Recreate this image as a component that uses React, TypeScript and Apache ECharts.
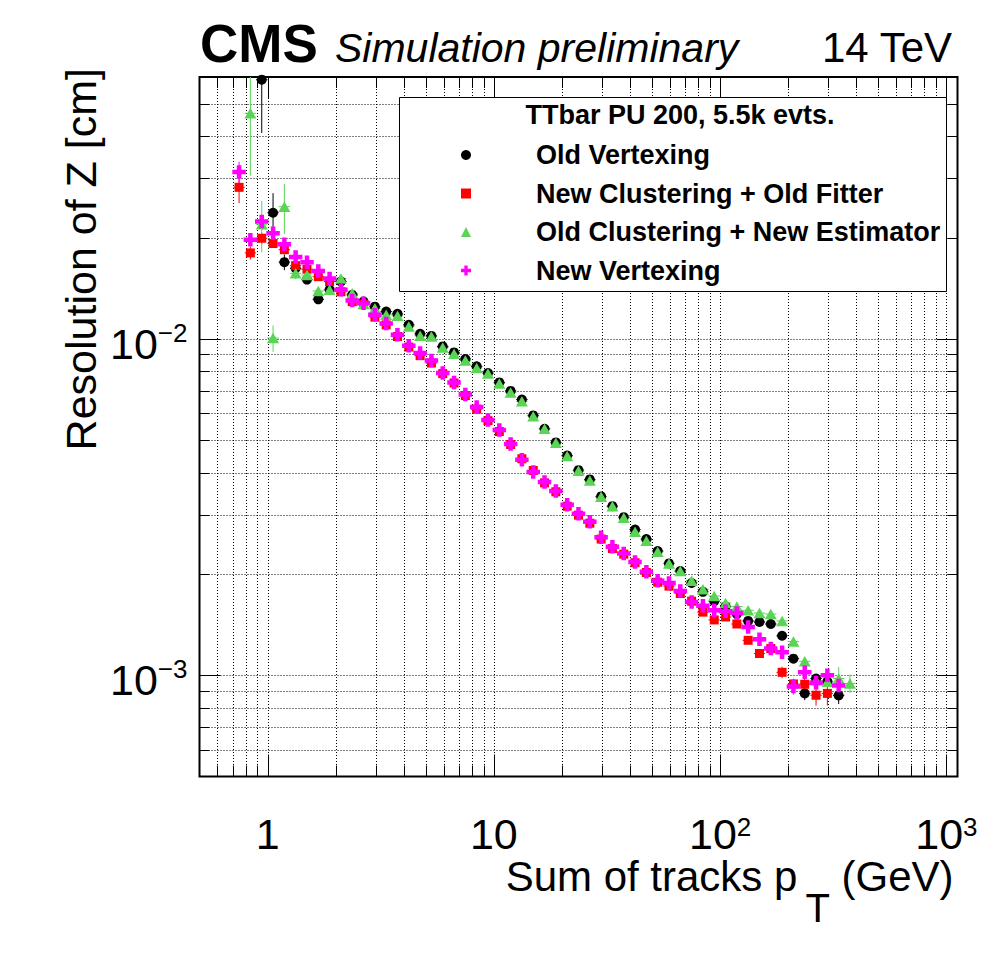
import React, { useEffect, useRef } from "react";
import * as echarts from "echarts";

// ---------- axis ranges & ticks ----------
const X_MIN = 0.5;
const X_MAX = 1120;
const Y_MIN = 0.0005;
const Y_MAX = 0.06;
const BIN_HALF_WIDTH_DEX = 0.025; // half bin width in decades (log-spaced bins)

const X_MAJOR_TICKS = [1, 10, 100, 1000];
const X_MINOR_TICKS = [
  0.6, 0.7, 0.8, 0.9, 2, 3, 4, 5, 6, 7, 8, 9, 20, 30, 40, 50, 60, 70, 80, 90,
  200, 300, 400, 500, 600, 700, 800, 900,
];
const Y_MAJOR_TICKS = [0.001, 0.01];
const Y_MINOR_TICKS = [
  0.0006, 0.0007, 0.0008, 0.0009, 0.002, 0.003, 0.004, 0.005, 0.006, 0.007,
  0.008, 0.009, 0.02, 0.03, 0.04, 0.05,
];

// ---------- data (bin centres in GeV, resolution in cm) ----------
const BIN_CENTERS = [
  0.748, 0.839, 0.942, 1.057, 1.186, 1.33, 1.493, 1.675, 1.879, 2.109, 2.366,
  2.655, 2.979, 3.342, 3.75, 4.207, 4.721, 5.297, 5.943, 6.668, 7.482, 8.395,
  9.419, 10.57, 11.86, 13.3, 14.93, 16.75, 18.79, 21.09, 23.66, 26.55, 29.79,
  33.42, 37.5, 42.07, 47.21, 52.97, 59.43, 66.68, 74.82, 83.95, 94.19, 105.7,
  118.6, 133.0, 149.3, 167.5, 187.9, 210.9, 236.6, 265.5, 297.9, 334.2, 375.0,
];

const OLD_VERTEXING = [
  null, null, 0.0589, 0.0237, 0.0169, 0.0162, 0.015, 0.0131, 0.014, 0.0148,
  0.0135, 0.0129, 0.01246, 0.01205, 0.01186, 0.011, 0.01035, 0.0102, 0.00949,
  0.00911, 0.00871, 0.00828, 0.00791, 0.00742, 0.007, 0.0066, 0.00592, 0.0054,
  0.00492, 0.0045, 0.00407, 0.00382, 0.0034, 0.00318, 0.00295, 0.00271,
  0.00254, 0.00234, 0.00215, 0.00204, 0.00188, 0.00177, 0.00166, 0.0016,
  0.00152, 0.00145, 0.00144, 0.00142, 0.00131, 0.00112, 0.000883, 0.000978,
  0.000958, 0.000871, null,
];
const NEW_CLUSTERING_OLD_FITTER = [
  0.0282, 0.018, 0.0199, 0.0192, 0.0184, 0.0165, 0.0161, 0.0153, 0.0148,
  0.0138, 0.0129, 0.0127, 0.0116, 0.011, 0.01016, 0.00945, 0.00891, 0.00847,
  0.00788, 0.00739, 0.00678, 0.00618, 0.00571, 0.0053, 0.00485, 0.0044,
  0.00406, 0.00373, 0.00351, 0.00318, 0.00299, 0.00283, 0.00254, 0.00238,
  0.00229, 0.00216, 0.00202, 0.00189, 0.00184, 0.00175, 0.00166, 0.00154,
  0.00146, 0.00149, 0.00142, 0.00127, 0.00116, 0.0012, 0.00102, 0.000942,
  0.00094, 0.000872, 0.000883, null, null,
];
const OLD_CLUSTERING_NEW_ESTIMATOR = [
  null, 0.0468, 0.0219, 0.01005, 0.0247, 0.01565, 0.01547, 0.01387, 0.014,
  0.01512, 0.01366, 0.01269, 0.01233, 0.01178, 0.0117, 0.01087, 0.01021,
  0.01016, 0.00942, 0.00903, 0.00862, 0.00819, 0.00788, 0.00736, 0.00693,
  0.00652, 0.00589, 0.0054, 0.00491, 0.00448, 0.00405, 0.00379, 0.00339,
  0.00318, 0.00294, 0.00267, 0.00251, 0.00233, 0.00215, 0.00204, 0.00191,
  0.0018, 0.00172, 0.00164, 0.0016, 0.00156, 0.00153, 0.00152, 0.00145,
  0.00126, 0.0011, 0.000966, 0.000956, 0.000978, 0.000945,
];
const NEW_VERTEXING = [
  0.0313, 0.0197, 0.0223, 0.0206, 0.0191, 0.0175, 0.0169, 0.0159, 0.0151,
  0.014, 0.013, 0.01276, 0.01178, 0.0111, 0.01028, 0.00953, 0.00907, 0.00862,
  0.00791, 0.00742, 0.00683, 0.00627, 0.00574, 0.00536, 0.00487, 0.00437,
  0.00402, 0.00375, 0.00353, 0.00321, 0.00302, 0.00286, 0.00257, 0.00241,
  0.0023, 0.00217, 0.00203, 0.00191, 0.00188, 0.00178, 0.00165, 0.00161,
  0.00156, 0.00155, 0.00153, 0.00139, 0.00128, 0.0012, 0.00117, 0.000926,
  0.00102, 0.00095, 0.001, 0.000932, null,
];

// visible vertical errors, keyed by index into BIN_CENTERS
const OLD_VERTEXING_ERR: Record<number, number> = { 2: 0.018, 3: 0.0034, 4: 0.0009, 7: 0.0004, 50: 0.00004, 53: 0.00005 };
const NEW_CLUSTERING_OLD_FITTER_ERR: Record<number, number> = { 0: 0.0029, 1: 0.0008, 2: 0.0008, 48: 0.00004, 50: 0.00008, 51: 0.00006, 52: 0.00007 };
const OLD_CLUSTERING_NEW_ESTIMATOR_ERR: Record<number, number> = { 1: 0.0162, 2: 0.0038, 3: 0.0009, 4: 0.0042, 5: 0.0006, 53: 0.00008, 54: 0.00006 };
const NEW_VERTEXING_ERR: Record<number, number> = { 0: 0.0023, 1: 0.0008, 49: 0.00005, 52: 0.00004 };

const SERIES_NAMES = [
  "Old Vertexing",
  "New Clustering + Old Fitter",
  "Old Clustering + New Estimator",
  "New Vertexing",
];

const FONT = '"Liberation Sans", Arial, Helvetica, sans-serif';
const CROSS = "path://M4,0H8V4H12V8H8V12H4V8H0V4H4Z";

function App() {
  const ref = useRef<HTMLDivElement>(null);

  useEffect(() => {
    document.body.style.margin = "0";
    document.body.style.overflow = "hidden";
    if (!ref.current) return;
    const chart = echarts.init(ref.current, null, { renderer: "svg" });

    const decorData: number[][] = [];
    X_MAJOR_TICKS.forEach((v) => decorData.push([v, 0.001, 0, 1]));
    X_MINOR_TICKS.forEach((v) => decorData.push([v, 0.001, 0, 0]));
    Y_MAJOR_TICKS.forEach((v) => decorData.push([1, v, 1, 1]));
    Y_MINOR_TICKS.forEach((v) => decorData.push([1, v, 1, 0]));

    const dotted = { stroke: "#000", lineWidth: 1, lineDash: [1, 2] };
    const solid = { stroke: "#000", lineWidth: 1 };

    const decorSeries = {
      type: "custom",
      name: "axis-decor",
      silent: true,
      data: decorData,
      renderItem: (params: any, api: any) => {
        const cs = params.coordSys;
        const p = api.coord([api.value(0), api.value(1)]);
        const kind = api.value(2);
        const major = api.value(3) === 1;
        const left = cs.x, right = cs.x + cs.width, top = cs.y, bottom = cs.y + cs.height;
        if (kind === 0) {
          const x = Math.round(p[0]) + 0.5;
          const len = major ? 22 : 11;
          return {
            type: "group",
            children: [
              { type: "line", shape: { x1: x, y1: top, x2: x, y2: bottom }, style: dotted },
              { type: "line", shape: { x1: x, y1: bottom, x2: x, y2: bottom - len }, style: solid },
              { type: "line", shape: { x1: x, y1: top, x2: x, y2: top + len }, style: solid },
            ],
          };
        }
        const y = Math.round(p[1]) + 0.5;
        const len = major ? 21 : 10;
        return {
          type: "group",
          children: [
            { type: "line", shape: { x1: left, y1: y, x2: right, y2: y }, style: dotted },
            { type: "line", shape: { x1: left, y1: y, x2: left + len, y2: y }, style: solid },
            { type: "line", shape: { x1: right, y1: y, x2: right - len, y2: y }, style: solid },
          ],
        };
      },
      z: 1,
    };

    const sets = [
      { name: SERIES_NAMES[0], values: OLD_VERTEXING, errs: OLD_VERTEXING_ERR, color: "#000000", symbol: "circle", size: 10 },
      { name: SERIES_NAMES[1], values: NEW_CLUSTERING_OLD_FITTER, errs: NEW_CLUSTERING_OLD_FITTER_ERR, color: "#ff0000", symbol: "rect", size: 9 },
      { name: SERIES_NAMES[2], values: OLD_CLUSTERING_NEW_ESTIMATOR, errs: OLD_CLUSTERING_NEW_ESTIMATOR_ERR, color: "#59d454", symbol: "triangle", size: [12, 10.5] },
      { name: SERIES_NAMES[3], values: NEW_VERTEXING, errs: NEW_VERTEXING_ERR, color: "#ff00ff", symbol: CROSS, size: 13.5 },
    ];

    const dataSeries: any[] = [];
    sets.forEach((s) => {
      const pts: number[][] = [];
      const errPts: number[][] = [];
      s.values.forEach((v, i) => {
        if (v == null) return;
        pts.push([BIN_CENTERS[i], v]);
        errPts.push([BIN_CENTERS[i], v, s.errs[i] || 0]);
      });
      dataSeries.push({
        type: "custom",
        name: "err-" + s.name,
        silent: true,
        data: errPts,
        renderItem: (params: any, api: any) => {
          const cs = params.coordSys;
          const x = api.value(0), y = api.value(1), e = api.value(2);
          const c = api.coord([x, y]);
          const f = Math.pow(10, BIN_HALF_WIDTH_DEX);
          const xl = api.coord([x / f, y])[0];
          const xr = api.coord([x * f, y])[0];
          const st = { stroke: s.color, lineWidth: 1 };
          const children: any[] = [
            { type: "line", shape: { x1: xl, y1: c[1], x2: xr, y2: c[1] }, style: st },
          ];
          if (e > 0) {
            const yt = Math.max(api.coord([x, y + e])[1], cs.y);
            const yb = Math.min(api.coord([x, Math.max(y - e, Y_MIN)])[1], cs.y + cs.height);
            children.push({ type: "line", shape: { x1: c[0], y1: yt, x2: c[0], y2: yb }, style: st });
          }
          return { type: "group", children };
        },
      });
      dataSeries.push({
        type: "scatter",
        name: s.name,
        data: pts,
        symbol: s.symbol,
        symbolSize: s.size,
        itemStyle: { color: s.color, opacity: 1 },
        silent: true,
      });
    });

    const xFormatter = (v: number) => {
      const e = Math.log10(v);
      const r = Math.round(e);
      if (Math.abs(e - r) > 1e-6) return "";
      if (r === 0) return "{b|1}";
      if (r === 1) return "{b|10}";
      return "{b|10}{e|" + r + "}";
    };
    const yFormatter = (v: number) => {
      const e = Math.log10(v);
      const r = Math.round(e);
      if (Math.abs(e - r) > 1e-6) return "";
      return "{b|10}{e|\u2212" + -r + "}";
    };
    const xLabelRich = {
      b: { fontSize: 43, fontFamily: FONT, color: "#000", lineHeight: 40 },
      e: { fontSize: 26, fontFamily: FONT, color: "#000", lineHeight: 22, verticalAlign: "top" },
    };
    const yLabelRich = {
      b: { fontSize: 43, fontFamily: FONT, color: "#000", lineHeight: 48 },
      e: { fontSize: 26, fontFamily: FONT, color: "#000", lineHeight: 26, verticalAlign: "top" },
    };

    const option: any = {
      animation: false,
      backgroundColor: "#fff",
      grid: {
        left: 199.5,
        right: 38.5,
        top: 77,
        bottom: 195.5,
        show: true,
        borderColor: "#000",
        borderWidth: 2,
        backgroundColor: "transparent",
        containLabel: false,
        outerBoundsMode: "none",
      },
      xAxis: {
        type: "log",
        logBase: 10,
        min: X_MIN,
        max: X_MAX,
        axisLine: { show: false },
        axisTick: { show: false },
        splitLine: { show: false },
        axisLabel: { formatter: xFormatter, rich: xLabelRich, margin: 37, color: "#000", showMinLabel: false, showMaxLabel: false },
        name: "{m|Sum of tracks p}{s|T}{m| (GeV)}",
        nameLocation: "end",
        nameGap: 0,
        nameMoveOverlap: false,
        nameTextStyle: {
          align: "right",
          verticalAlign: "top",
          padding: [79, 4, 0, 0],
          rich: {
            m: { fontSize: 42, fontFamily: FONT, color: "#000", lineHeight: 40, verticalAlign: "top" },
            s: { fontSize: 40, fontFamily: FONT, color: "#000", lineHeight: 40, verticalAlign: "top", padding: [32, 0, 0, 8] },
          },
        },
      },
      yAxis: {
        type: "log",
        logBase: 10,
        min: Y_MIN,
        max: Y_MAX,
        axisLine: { show: false },
        axisTick: { show: false },
        splitLine: { show: false },
        axisLabel: { formatter: yFormatter, rich: yLabelRich, margin: 12, color: "#000", padding: [10, 0, 0, 0], showMinLabel: false, showMaxLabel: false },
        name: "Resolution of Z [cm]",
        nameLocation: "end",
        nameRotate: 90,
        nameGap: 9,
        nameMoveOverlap: false,
        nameTextStyle: {
          fontSize: 43,
          fontFamily: FONT,
          color: "#000",
          align: "right",
          verticalAlign: "bottom",
          padding: [0, 0, 97, 0],
        },
      },
      legend: {
        show: true,
        orient: "vertical",
        left: 461,
        top: 141,
        padding: 0,
        itemWidth: 10,
        itemHeight: 10,
        itemGap: 10.5,
        selectedMode: false,
        z: 10,
        textStyle: { fontFamily: FONT, fontSize: 27, fontWeight: "bold", color: "#000", lineHeight: 28, padding: [0, 0, 0, 60] },
        data: [
          { name: SERIES_NAMES[0], icon: "circle" },
          { name: SERIES_NAMES[1], icon: "rect" },
          { name: SERIES_NAMES[2], icon: "triangle" },
          { name: SERIES_NAMES[3], icon: CROSS },
        ],
      },
      graphic: [
        {
          type: "rect",
          z: 5,
          silent: true,
          shape: { x: 399.5, y: 97.5, width: 547, height: 194 },
          style: { fill: "#fff", stroke: "#000", lineWidth: 1 },
        },
        {
          type: "text",
          z: 11,
          x: 680,
          y: 115,
          style: { text: "TTbar PU 200, 5.5k evts.", fontSize: 27, fontWeight: "bold", fontFamily: FONT, fill: "#000", textAlign: "center", textVerticalAlign: "middle", align: "center", verticalAlign: "middle" },
        },
        {
          type: "text",
          z: 11,
          x: 200,
          y: 43,
          style: { text: "CMS", fontSize: 53, fontWeight: "bold", fontFamily: FONT, fill: "#000", textAlign: "left", textVerticalAlign: "middle", align: "left", verticalAlign: "middle" },
        },
        {
          type: "text",
          z: 11,
          x: 335,
          y: 48,
          style: { text: "Simulation preliminary", fontSize: 41, fontStyle: "italic", fontFamily: FONT, fill: "#000", textAlign: "left", textVerticalAlign: "middle", align: "left", verticalAlign: "middle" },
        },
        {
          type: "text",
          z: 11,
          x: 952,
          y: 47.5,
          style: { text: "14 TeV", fontSize: 42, fontFamily: FONT, fill: "#000", textAlign: "right", textVerticalAlign: "middle", align: "right", verticalAlign: "middle" },
        },
      ],
      series: [decorSeries, ...dataSeries],
    };

    chart.setOption(option);
    return () => chart.dispose();
  }, []);

  return <div ref={ref} style={{ width: 996, height: 972 }} />;
}

export default App;
